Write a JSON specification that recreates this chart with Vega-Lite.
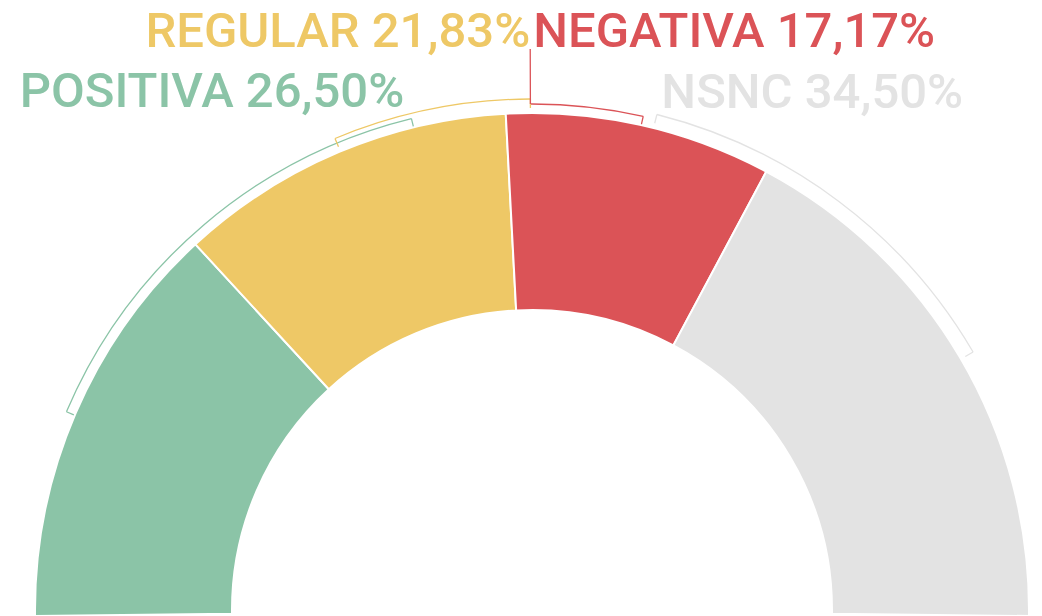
{
  "$schema": "https://vega.github.io/schema/vega-lite/v6.json",
  "autosize": "none",
  "width": 1020,
  "height": 12,
  "padding": {"left": 22, "top": 604, "right": 0, "bottom": 0},
  "background": "white",
  "config": {"view": {"stroke": null}, "text": {"font": "Roboto", "fontSize": 49, "fontWeight": 500}},
  "datasets": {
    "segments": [
      {"idx": 1, "name": "POSITIVA", "value": 26.50, "label": "POSITIVA 26,50%"},
      {"idx": 2, "name": "REGULAR", "value": 21.83, "label": "REGULAR 21,83%"},
      {"idx": 3, "name": "NEGATIVA", "value": 17.17, "label": "NEGATIVA 17,17%"},
      {"idx": 4, "name": "NSNC", "value": 34.50, "label": "NSNC 34,50%"}
    ],
    "brackets": [
      {"name": "POSITIVA", "start": 13.1, "end": 42.4, "label": "POSITIVA 26,50%"},
      {"name": "REGULAR", "start": 37.5, "end": 49.9, "label": "REGULAR 21,83%"},
      {"name": "NEGATIVA", "start": 49.9, "end": 57.0, "label": "NEGATIVA 17,17%"},
      {"name": "NSNC", "start": 57.8, "end": 82.9, "label": "NSNC 34,50%"}
    ]
  },
  "encoding": {
    "color": {
      "field": "name",
      "type": "nominal",
      "legend": null,
      "scale": {
        "domain": ["POSITIVA", "REGULAR", "NEGATIVA", "NSNC"],
        "range": ["#8BC4A7", "#EEC866", "#DB5357", "#E3E3E3"]
      }
    }
  },
  "layer": [
    {
      "data": {"name": "segments"},
      "transform": [
        {"stack": "value", "groupby": [], "sort": [{"field": "idx", "order": "ascending"}], "as": ["v0", "v1"]}
      ],
      "mark": {"type": "arc", "radius": 497, "radius2": 300, "stroke": "white", "strokeWidth": 2},
      "encoding": {
        "theta": {"field": "v0", "type": "quantitative", "stack": null, "scale": {"domain": [0, 100], "range": [-1.5829, 1.5829]}},
        "theta2": {"field": "v1"}
      }
    },
    {
      "data": {"name": "brackets"},
      "transform": [{"filter": "datum.name === 'POSITIVA' || datum.name === 'NEGATIVA'"}],
      "mark": {"type": "arc", "radius": 506, "radius2": 506, "filled": false, "strokeWidth": 1.3},
      "encoding": {
        "theta": {"field": "start", "type": "quantitative", "stack": null, "scale": {"domain": [0, 100], "range": [-1.5829, 1.5829]}},
        "theta2": {"field": "end"}
      }
    },
    {
      "data": {"name": "brackets"},
      "transform": [{"filter": "datum.name === 'REGULAR' || datum.name === 'NSNC'"}],
      "mark": {"type": "arc", "radius": 511, "radius2": 511, "filled": false, "strokeWidth": 1.3},
      "encoding": {
        "theta": {"field": "start", "type": "quantitative", "stack": null, "scale": {"domain": [0, 100], "range": [-1.5829, 1.5829]}},
        "theta2": {"field": "end"}
      }
    },
    {
      "data": {"name": "brackets"},
      "transform": [
        {"filter": "datum.name === 'POSITIVA' || datum.name === 'NEGATIVA'"},
        {"fold": ["start", "end"], "as": ["side", "pos"]},
        {"filter": "!(datum.name === 'NEGATIVA' && datum.side === 'start')"}
      ],
      "mark": {"type": "arc", "radius": 506, "radius2": 498, "filled": false, "strokeWidth": 1.3},
      "encoding": {
        "theta": {"field": "pos", "type": "quantitative", "stack": null, "scale": {"domain": [0, 100], "range": [-1.5829, 1.5829]}},
        "theta2": {"field": "pos"}
      }
    },
    {
      "data": {"name": "brackets"},
      "transform": [
        {"filter": "datum.name === 'REGULAR' || datum.name === 'NSNC'"},
        {"fold": ["start", "end"], "as": ["side", "pos"]}
      ],
      "mark": {"type": "arc", "radius": 511, "radius2": 502, "filled": false, "strokeWidth": 1.3},
      "encoding": {
        "theta": {"field": "pos", "type": "quantitative", "stack": null, "scale": {"domain": [0, 100], "range": [-1.5829, 1.5829]}},
        "theta2": {"field": "pos"}
      }
    },
    {
      "data": {"name": "brackets"},
      "transform": [{"filter": "datum.name === 'NEGATIVA'"}],
      "mark": {"type": "arc", "radius": 561, "radius2": 506, "filled": false, "strokeWidth": 1.3},
      "encoding": {
        "theta": {"field": "start", "type": "quantitative", "stack": null, "scale": {"domain": [0, 100], "range": [-1.5829, 1.5829]}},
        "theta2": {"field": "start"}
      }
    },
    {
      "data": {"name": "brackets"},
      "transform": [{"filter": "datum.name === 'POSITIVA'"}],
      "mark": {"type": "text", "radius": 515, "align": "right", "baseline": "alphabetic", "dx": -5, "dy": -3},
      "encoding": {
        "theta": {"field": "end", "type": "quantitative", "stack": null, "scale": {"domain": [0, 100], "range": [-1.5829, 1.5829]}},
        "text": {"field": "label"}
      }
    },
    {
      "data": {"name": "brackets"},
      "transform": [{"filter": "datum.name === 'REGULAR'"}],
      "mark": {"type": "text", "radius": 563, "align": "right", "baseline": "alphabetic", "dx": 0, "dy": 0},
      "encoding": {
        "theta": {"field": "end", "type": "quantitative", "stack": null, "scale": {"domain": [0, 100], "range": [-1.5829, 1.5829]}},
        "text": {"field": "label"}
      }
    },
    {
      "data": {"name": "brackets"},
      "transform": [{"filter": "datum.name === 'NEGATIVA'"}],
      "mark": {"type": "text", "radius": 563, "align": "left", "baseline": "alphabetic", "dx": 3, "dy": 0},
      "encoding": {
        "theta": {"field": "start", "type": "quantitative", "stack": null, "scale": {"domain": [0, 100], "range": [-1.5829, 1.5829]}},
        "text": {"field": "label"}
      }
    },
    {
      "data": {"name": "brackets"},
      "transform": [{"filter": "datum.name === 'NSNC'"}],
      "mark": {"type": "text", "radius": 517, "align": "left", "baseline": "alphabetic", "dx": 3, "dy": -1},
      "encoding": {
        "theta": {"field": "start", "type": "quantitative", "stack": null, "scale": {"domain": [0, 100], "range": [-1.5829, 1.5829]}},
        "text": {"field": "label"}
      }
    }
  ]
}
